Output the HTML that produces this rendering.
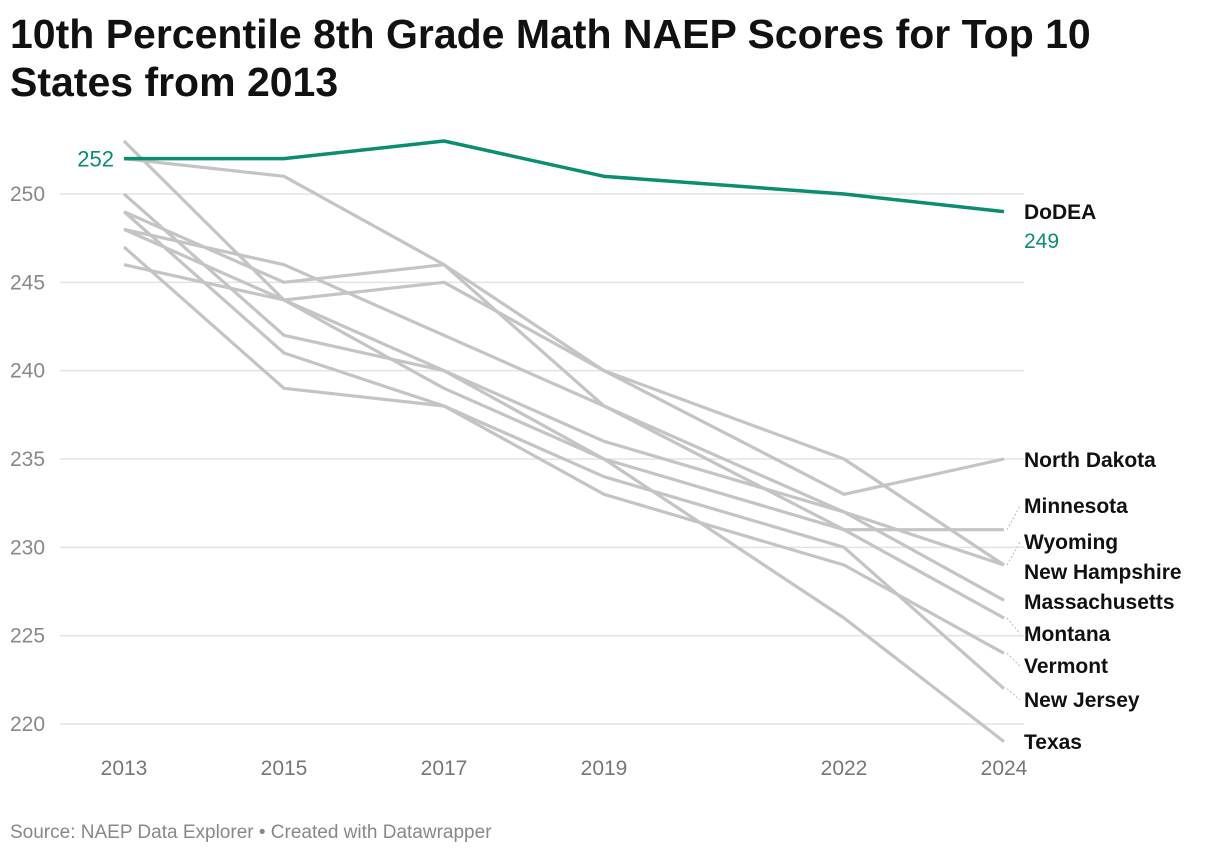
<!DOCTYPE html>
<html><head><meta charset="utf-8"><style>
body{margin:0;background:#fff;font-family:"Liberation Sans",Arial,sans-serif;}
#t{position:absolute;left:10px;top:10px;font-size:41px;font-weight:bold;line-height:48px;color:#111;width:1150px}
#s{position:absolute;left:10px;top:822px;font-size:19px;color:#888}
svg{position:absolute;left:0;top:0}
</style></head><body>
<div id="t">10th Percentile 8th Grade Math NAEP Scores for Top 10 States from 2013</div>
<div id="s">Source: NAEP Data Explorer • Created with Datawrapper</div>
<svg id="c" width="1220" height="858"></svg>
<script>
const years=[2013,2015,2017,2019,2022,2024];
const yTicks=[220,225,230,235,240,245,250];
const states=["Wyoming","New Hampshire","Minnesota","North Dakota","Massachusetts","Montana","Vermont","New Jersey","Texas"];
const values=[
[253,244,240,236,232,229],
[252,251,246,240,235,229],
[250,242,240,235,231,231],
[248,244,245,240,233,235],
[249,245,246,238,232,227],
[248,246,242,238,231,226],
[249,241,238,233,229,224],
[247,239,238,234,230,222],
[246,244,239,235,226,219]];
const dodea=[252,252,253,251,250,249];
const labelY=[542,572,506,460,602,634,666,700,742];
const NS="http://www.w3.org/2000/svg";
const svg=document.getElementById('c');
const X=y=>124+(y-2013)*80;
const Y=v=>724-(v-220)*(530/30);
function mk(t,a,txt){const e=document.createElementNS(NS,t);for(const k in a)e.setAttribute(k,a[k]);if(txt!=null)e.textContent=txt;svg.appendChild(e);return e;}
yTicks.forEach(v=>{
const g=mk('line',{x1:60,x2:1024,y1:Y(v),y2:Y(v),stroke:'#e3e3e3','stroke-width':1.5});


const t=mk('text',{x:10,y:Y(v)+7,'font-size':21,fill:'#888'},v);


});
years.forEach(y=>{
const t=mk('text',{x:X(y),y:775,'font-size':21,fill:'#777','text-anchor':'middle'},y);


});
values.forEach((s,i)=>{
const p=mk('polyline',{points:s.map((v,j)=>X(years[j])+','+Y(v)).join(' '),fill:'none',stroke:'#c4c4c4','stroke-width':3.2,'stroke-linejoin':'round'});


const ly=labelY[i],ey=Y(s[5]);
if(Math.abs(ly-ey)>8){const c=mk('line',{x1:1007,y1:ey,x2:1020,y2:ly,stroke:'#bbb','stroke-dasharray':'2,2'});

}
const t=mk('text',{x:1024,y:ly+7,'font-size':21,'font-weight':'bold',fill:'#111'},states[i]);


});
const d=mk('polyline',{points:dodea.map((v,j)=>X(years[j])+','+Y(v)).join(' '),fill:'none',stroke:'#0a8d70','stroke-width':3.5,'stroke-linejoin':'round'});


const a=mk('text',{x:114,y:Y(dodea[0])+8,'font-size':22,fill:'#0a8d70','text-anchor':'end'},dodea[0]);


const b=mk('text',{x:1024,y:219,'font-size':21,'font-weight':'bold',fill:'#111'},'DoDEA');


const e=mk('text',{x:1024,y:248,'font-size':21,fill:'#0a8d70'},dodea[5]);


</script>
</body></html>
